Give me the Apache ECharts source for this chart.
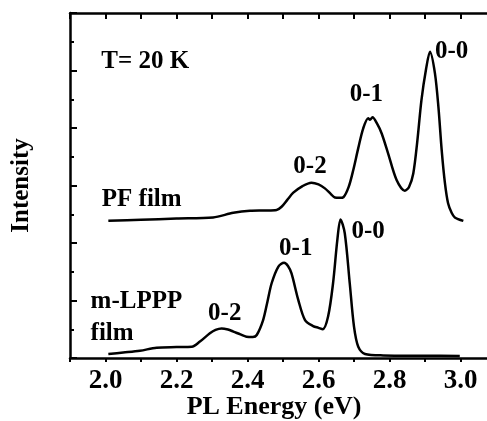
<!DOCTYPE html>
<html>
<head>
<meta charset="utf-8">
<script src="https://cdn.jsdelivr.net/npm/echarts@6/dist/echarts.min.js"></script>
<style>
  html, body { margin: 0; padding: 0; background: #fff; }
  #chart { width: 487px; height: 421px; }
</style>
</head>
<body>
<div id="chart"></div>
<script>
// PF film spectrum (energy eV, intensity in axis units)
const pfEnergy = [2.008, 2.10, 2.20, 2.303, 2.36, 2.407, 2.45, 2.482, 2.496, 2.512, 2.529, 2.555, 2.58, 2.60, 2.618, 2.635, 2.646, 2.66, 2.67, 2.685, 2.698, 2.712, 2.726, 2.74, 2.745, 2.752, 2.765, 2.778, 2.796, 2.82, 2.843, 2.855, 2.867, 2.878, 2.890, 2.903, 2.914, 2.928, 2.938, 2.947, 2.956, 2.965, 2.975, 2.984, 3.008]
const pfIntensity = [4.77, 4.81, 4.85, 4.89, 5.05, 5.12, 5.13, 5.15, 5.26, 5.50, 5.75, 5.98, 6.10, 6.04, 5.90, 5.70, 5.58, 5.57, 5.59, 5.95, 6.54, 7.30, 7.99, 8.34, 8.29, 8.37, 8.15, 7.81, 7.12, 6.19, 5.82, 5.95, 6.42, 7.50, 8.97, 10.05, 10.65, 9.90, 8.70, 7.23, 6.10, 5.38, 5.05, 4.89, 4.77]

// m-LPPP film spectrum
const lpppEnergy = [2.008, 2.05, 2.097, 2.144, 2.20, 2.243, 2.266, 2.294, 2.31, 2.327, 2.345, 2.36, 2.38, 2.397, 2.415, 2.426, 2.444, 2.456, 2.468, 2.487, 2.503, 2.514, 2.524, 2.543, 2.562, 2.585, 2.60, 2.612, 2.627, 2.641, 2.653, 2.662, 2.674, 2.688, 2.700, 2.712, 2.731, 2.782, 2.90, 2.998]
const lpppIntensity = [0.14, 0.19, 0.25, 0.36, 0.38, 0.39, 0.57, 0.86, 0.98, 1.03, 0.99, 0.92, 0.82, 0.74, 0.73, 0.80, 1.32, 1.95, 2.60, 3.18, 3.31, 3.20, 2.94, 2.02, 1.32, 1.11, 1.05, 1.00, 1.44, 2.60, 4.10, 4.82, 4.34, 2.60, 1.09, 0.39, 0.14, 0.09, 0.08, 0.07]

// annotations placed in data coordinates: [energy, intensity, text]
const centerLabels = [
    [2.112, 10.31, 'T= 20 K'],
    [2.975, 10.65, '0-0'],
    [2.735, 9.15, '0-1'],
    [2.576, 6.65, '0-2'],
    [2.102, 5.50, 'PF film'],
    [2.740, 4.39, '0-0'],
    [2.536, 3.82, '0-1'],
    [2.336, 1.55, '0-2'],
]
const leftLabels = [
    [1.958, 1.96, 'm-LPPP'],
    [1.958, 0.86, 'film'],
]

const font = 'Liberation Serif'
const black = '#000'

const zip = (xs, ys) => xs.map((x, i) => [x, ys[i]])

const labelSeries = (data, align) => ({
    type: 'scatter',
    symbolSize: 0,
    silent: true,
    itemStyle: { opacity: 1, color: black },
    data: data,
    label: {
        show: true,
        position: 'inside',
        align: align,
        verticalAlign: 'middle',
        formatter: p => p.value[2],
        color: black,
        fontFamily: font,
        fontWeight: 'bold',
        fontSize: 25,
    },
})

const myChart = echarts.init(document.getElementById('chart'))

const option = {
    animation: false,
    backgroundColor: '#fff',
    grid: { left: 70, top: 13, width: 426, height: 345, containLabel: false, outerBoundsMode: 'none' },
    xAxis: [{
        type: 'value',
        min: 1.9,
        max: 3.1,
        interval: 0.1,
        position: 'bottom',
        name: 'PL Energy (eV)',
        nameLocation: 'middle',
        nameGap: 36,
        nameMoveOverlap: false,
        nameTextStyle: { color: black, fontFamily: font, fontWeight: 'bold', fontSize: 26, padding: [0, 18, 0, 0] },
        axisLine: { show: true, lineStyle: { color: black, width: 2.5 } },
        axisTick: { show: true, inside: false, length: 4, lineStyle: { color: black, width: 2 } },
        axisLabel: {
            color: black,
            fontFamily: font,
            fontWeight: 'bold',
            fontSize: 27,
            margin: 10,
            formatter: v => (Math.round(v * 10) % 2 === 0 ? v.toFixed(1) : ''),
        },
        splitLine: { show: false },
    }, {
        type: 'value',
        min: 1.9,
        max: 3.1,
        interval: 0.1,
        position: 'top',
        axisLine: { show: true, lineStyle: { color: black, width: 2.5 } },
        axisTick: { show: true, inside: true, length: 6, lineStyle: { color: black, width: 2 } },
        axisLabel: { show: false },
        splitLine: { show: false },
    }],
    yAxis: {
        type: 'value',
        min: 0,
        max: 12,
        interval: 2,
        name: 'Intensity',
        nameLocation: 'middle',
        nameGap: 36,
        nameRotate: 90,
        nameTextStyle: { color: black, fontFamily: font, fontWeight: 'bold', fontSize: 25 },
        axisLine: { show: true, lineStyle: { color: black, width: 2.5 } },
        axisTick: { show: true, inside: true, length: 7, lineStyle: { color: black, width: 2 } },
        minorTick: { show: true, splitNumber: 2, length: 4, lineStyle: { color: black, width: 2 } },
        axisLabel: { show: false },
        splitLine: { show: false },
    },
    series: [{
        type: 'line',
        data: zip(pfEnergy, pfIntensity),
        smooth: 0.3,
        symbol: 'none',
        lineStyle: { color: black, width: 2.5 },
    }, {
        type: 'line',
        data: zip(lpppEnergy, lpppIntensity),
        smooth: 0.3,
        symbol: 'none',
        lineStyle: { color: black, width: 2.5 },
    },
    labelSeries(centerLabels, 'center'),
    labelSeries(leftLabels, 'left'),
    ],
}

myChart.setOption(option)
</script>
</body>
</html>
